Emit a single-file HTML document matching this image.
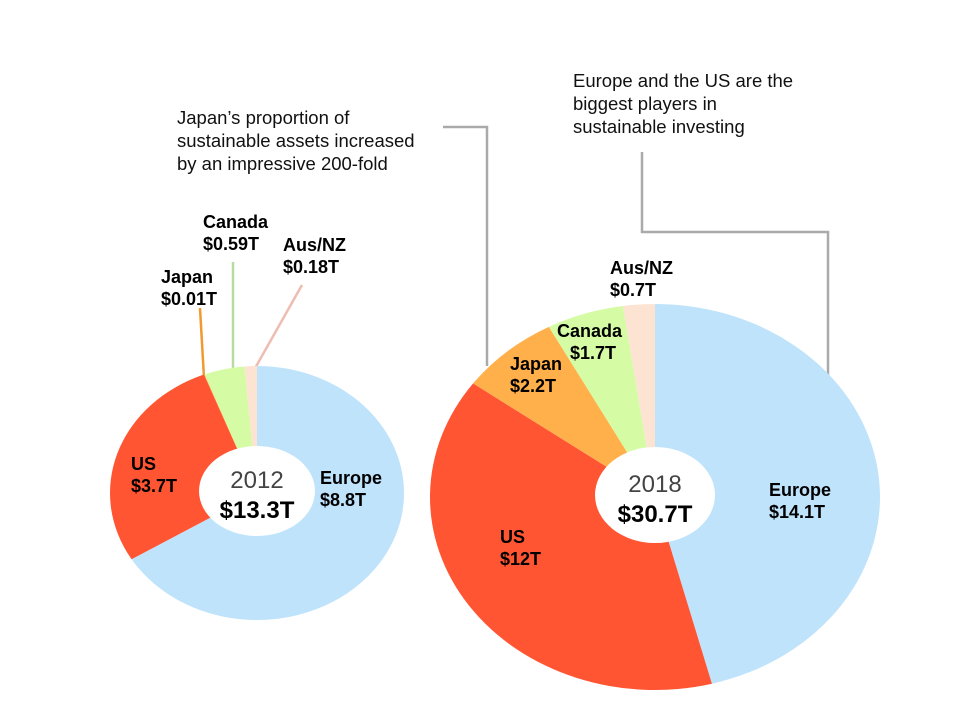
<!DOCTYPE html>
<html><head><meta charset="utf-8"><style>
body{margin:0;background:#fff;}
svg{display:block;font-family:"Liberation Sans",Arial,sans-serif;}
.lb{font-weight:bold;font-size:18px;fill:#000;}
.note{font-size:18.5px;fill:#111;}
</style></head><body>
<svg id="chart" width="960" height="720" viewBox="0 0 960 720">
<g id="lines">
<polyline points="443,127 487,127 487,366" fill="none" stroke="#aaa" stroke-width="2.5"/>
<polyline points="642,152 642,232 828,232 828,386" fill="none" stroke="#aaa" stroke-width="2.5"/>
<line x1="200" y1="308" x2="204" y2="378" stroke="#f09a30" stroke-width="2.5"/>
<line x1="233" y1="262" x2="233" y2="375" stroke="#b8dca0" stroke-width="2.5"/>
<line x1="302" y1="285" x2="254" y2="370" stroke="#efbcb0" stroke-width="2.5"/>
</g>
<g id="pies"></g>
<g>
<text class="note"><tspan x="177" y="124">Japan’s proportion of</tspan><tspan x="177" y="147">sustainable assets increased</tspan><tspan x="177" y="170">by an impressive 200-fold</tspan></text>
<text class="note"><tspan x="573" y="87">Europe and the US are the</tspan><tspan x="573" y="110">biggest players in</tspan><tspan x="573" y="133">sustainable investing</tspan></text>
</g>
<g>
<text class="lb"><tspan x="203" y="228">Canada</tspan><tspan x="203" y="250">$0.59T</tspan></text>
<text class="lb"><tspan x="283" y="251">Aus/NZ</tspan><tspan x="283" y="273">$0.18T</tspan></text>
<text class="lb"><tspan x="161" y="283">Japan</tspan><tspan x="161" y="305">$0.01T</tspan></text>
<text class="lb"><tspan x="131" y="470">US</tspan><tspan x="131" y="492">$3.7T</tspan></text>
<text class="lb"><tspan x="320" y="484">Europe</tspan><tspan x="320" y="506">$8.8T</tspan></text>
</g>
<g>
<text class="lb"><tspan x="610" y="274">Aus/NZ</tspan><tspan x="610" y="296">$0.7T</tspan></text>
<text class="lb"><tspan x="557" y="337">Canada</tspan><tspan x="570" y="359">$1.7T</tspan></text>
<text class="lb"><tspan x="510" y="370">Japan</tspan><tspan x="510" y="392">$2.2T</tspan></text>
<text class="lb"><tspan x="500" y="543">US</tspan><tspan x="500" y="565">$12T</tspan></text>
<text class="lb"><tspan x="769" y="496">Europe</tspan><tspan x="769" y="518">$14.1T</tspan></text>
</g>
</svg>
<script>
const regions=["Europe","US","Japan","Canada","Aus/NZ"];
const values2012=[8.8,3.7,0.01,0.59,0.18];
const values2018=[14.1,12,2.2,1.7,0.7];
const years=["2012","2018"];
const totals=["$13.3T","$30.7T"];
const colors=["#bfe3fb","#ff5533","#ffb04a","#d5fca5","#fde4d2"];
const NS="http://www.w3.org/2000/svg";
const g=document.getElementById('pies');
function pt(c,a){return [c.cx+c.rx*Math.sin(a),c.cy-c.ry*Math.cos(a)];}
function drawPie(vals,c,year,total,key){
  const sum=vals.reduce((a,b)=>a+b,0);
  let a0=0;
  vals.forEach((v,i)=>{
    const a1=a0+v/sum*2*Math.PI;
    const p0=pt(c,a0),p1=pt(c,a1);
    const large=(a1-a0)>Math.PI?1:0;
    const p=document.createElementNS(NS,'path');
    p.setAttribute('d',`M${c.cx},${c.cy}L${p0[0]},${p0[1]}A${c.rx},${c.ry} 0 ${large} 1 ${p1[0]},${p1[1]}Z`);
    p.setAttribute('fill',colors[i]);
    
    
    g.appendChild(p);
    a0=a1;
  });
  const h=document.createElementNS(NS,'ellipse');
  h.setAttribute('cx',c.cx);h.setAttribute('cy',c.cy-2);h.setAttribute('rx',c.hx);h.setAttribute('ry',c.hy);h.setAttribute('fill','#fff');
  
  
  g.appendChild(h);
  const t1=document.createElementNS(NS,'text');
  t1.setAttribute('x',c.cx);t1.setAttribute('y',c.cy-5);t1.setAttribute('text-anchor','middle');t1.setAttribute('font-size','24');t1.setAttribute('fill','#444');
  t1.textContent=year;
  
  
  g.appendChild(t1);
  const t2=document.createElementNS(NS,'text');
  t2.setAttribute('x',c.cx);t2.setAttribute('y',c.cy+25);t2.setAttribute('text-anchor','middle');t2.setAttribute('font-size','24');t2.setAttribute('font-weight','bold');
  t2.textContent=total;
  
  
  g.appendChild(t2);
}
drawPie(values2012,{cx:257,cy:493,rx:147,ry:127,hx:58,hy:45},years[0],totals[0],'2012');
drawPie(values2018,{cx:655,cy:497,rx:225,ry:193,hx:60,hy:48},years[1],totals[1],'2018');
</script>
</body></html>
